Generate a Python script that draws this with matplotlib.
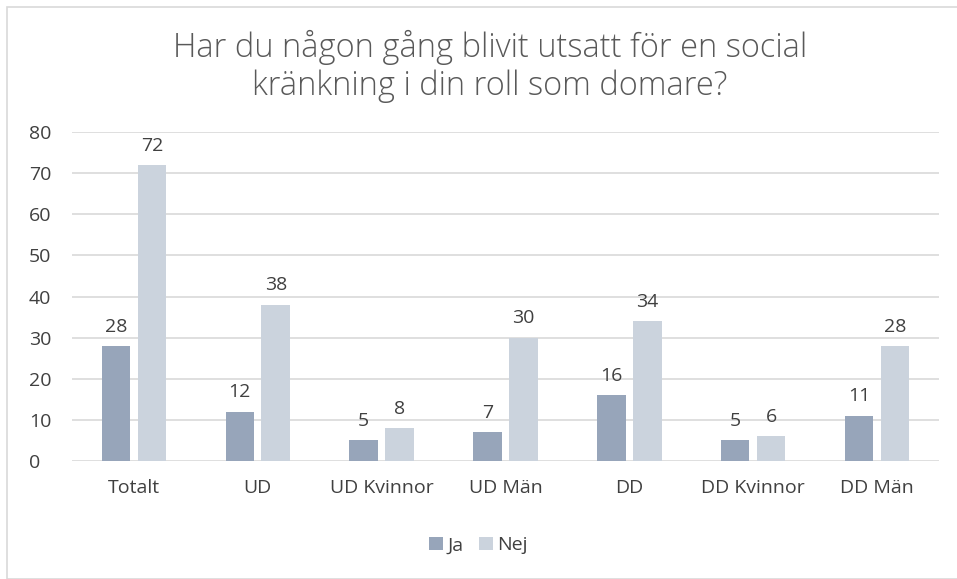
import matplotlib.pyplot as plt
import numpy as np
from matplotlib.patches import Rectangle

categories = ["Totalt", "UD", "UD Kvinnor", "UD Män", "DD", "DD Kvinnor", "DD Män"]
ja = [28, 12, 5, 7, 16, 5, 11]
nej = [72, 38, 8, 30, 34, 6, 28]
series_names = ["Ja", "Nej"]
title = "Har du någon gång blivit utsatt för en social\nkränkning i din roll som domare?"

c_ja = "#97a5ba"
c_nej = "#cbd3dd"
text_c = "#404040"

plt.rcParams["font.family"] = ["Open Sans", "DejaVu Sans"]

fig = plt.figure(figsize=(9.57, 5.79), dpi=100)
ax = fig.add_axes([0.0752, 0.2038, 0.906, 0.5682])

# outer chart border
fig.patches.append(Rectangle((7 / 957, 0), 1, 1 - 7 / 579, transform=fig.transFigure,
                             fill=False, edgecolor="#d9d9d9", linewidth=1.2))

x = np.arange(len(categories))
w = 0.23
gap = 0.06
b1 = ax.bar(x - (w + gap) / 2, ja, w, color=c_ja, label=series_names[0], zorder=2)
b2 = ax.bar(x + (w + gap) / 2, nej, w, color=c_nej, label=series_names[1], zorder=2)
for bars, vals in ((b1, ja), (b2, nej)):
    for r, v in zip(bars, vals):
        ax.text(r.get_x() + r.get_width() / 2, v + 2.5, str(v), ha="center", va="bottom",
                fontsize=14, color=text_c)

ax.set_xlim(-0.5, len(categories) - 0.5)
ax.set_ylim(0, 80)
ax.set_yticks(range(0, 81, 10))
ax.set_xticks(x)
ax.set_xticklabels(categories)
ax.tick_params(axis="both", length=0, labelsize=14, labelcolor=text_c)
ax.tick_params(axis="x", pad=13)
ax.tick_params(axis="y", pad=31)
for lab in ax.get_yticklabels():
    lab.set_horizontalalignment("left")
ax.grid(axis="y", color="#d9d9d9", linewidth=1.2, zorder=0)
for s in ax.spines.values():
    s.set_visible(False)

fig.text(0.512, 0.885, title, ha="center", va="center", fontsize=23.5,
         color="#595959", fontweight="light", linespacing=1.15)

fig.legend(loc="center", bbox_to_anchor=(0.5, 0.058), ncol=2, frameon=False,
           fontsize=14, handlelength=0.7, handleheight=0.7, handletextpad=0.25,
           columnspacing=0.8, labelcolor=text_c)

fig.savefig("out.png", dpi=100)
